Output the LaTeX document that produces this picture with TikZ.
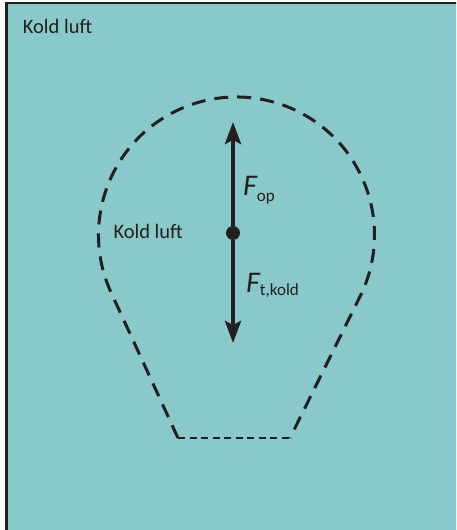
\documentclass[tikz,border=0pt]{standalone}
\usepackage{fontspec}
\setmainfont{Carlito}
\usetikzlibrary{arrows.meta,calc}
\definecolor{bg}{HTML}{8AC9C9}
\definecolor{ink}{HTML}{231F20}
\begin{document}
\begin{tikzpicture}[x=1pt,y=1pt,
  balloon/.style={draw=ink,line width=3pt,dash pattern=on 14pt off 9pt},
  mouth/.style={draw=ink,line width=1.6pt,dash pattern=on 7pt off 4.5pt},
  force/.style={draw=ink,line width=4pt,-{Stealth[length=22pt,width=16pt,inset=4pt]}},
  lbl/.style={anchor=base west,inner sep=0pt,text=ink,font=\fontsize{17}{20}\selectfont},
  air/.style={anchor=base west,inner sep=0pt,text=ink,font=\fontsize{20.5}{24}\selectfont}]
\useasboundingbox (0,0) rectangle (456,530);
\clip (0,0) rectangle (456,530);
\fill[bg] (6.5,-10) rectangle (470,527);
\draw[ink,line width=2.5pt] (6.5,-10) |- (470,527);
% balloon
\coordinate (bl) at (178,92);
\coordinate (br) at (290,92);
\coordinate (ctr) at (236.5,295);
\draw[balloon] (bl) -- ($(ctr)+(204.7:138)$) arc[start angle=204.7,end angle=-26.3,radius=138] -- (br);
\draw[mouth] (bl) -- (br);
% forces
\node[circle,fill=ink,inner sep=0pt,minimum size=14pt] (c) at (233,297) {};
\coordinate (up) at (233,408);
\coordinate (dn) at (233,187);
\draw[force] (c) -- (up);
\draw[force] (c) -- (dn);
\node[lbl] (fop) at (243,334) {{\fontsize{30}{30}\selectfont\itshape F}\raisebox{-6pt}{op}};
\node[lbl] (ftk) at (246,237) {{\fontsize{30}{30}\selectfont\itshape F}\raisebox{-3pt}{t,kold}};
\node[air] (out) at (22.7,496.7) {Kold luft};
\node[air] (in) at (113.3,291) {Kold luft};
\end{tikzpicture}
\end{document}
